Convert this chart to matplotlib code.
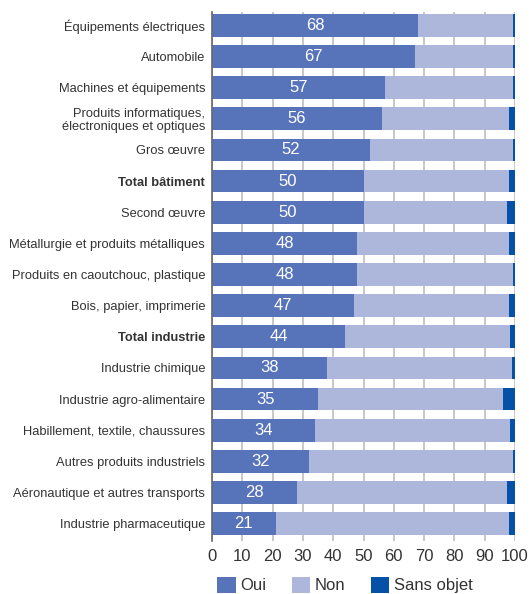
import matplotlib.pyplot as plt
import numpy as np

# Share of firms answering the question, by sector (%)
categories = [
    "Équipements électriques",
    "Automobile",
    "Machines et équipements",
    "Produits informatiques,\nélectroniques et optiques",
    "Gros œuvre",
    "Total bâtiment",
    "Second œuvre",
    "Métallurgie et produits métalliques",
    "Produits en caoutchouc, plastique",
    "Bois, papier, imprimerie",
    "Total industrie",
    "Industrie chimique",
    "Industrie agro-alimentaire",
    "Habillement, textile, chaussures",
    "Autres produits industriels",
    "Aéronautique et autres transports",
    "Industrie pharmaceutique",
]
oui = [68, 67, 57, 56, 52, 50, 50, 48, 48, 47, 44, 38, 35, 34, 32, 28, 21]
sans_objet = [0.5, 0.5, 0.5, 2, 0.5, 2, 2.5, 2, 0.5, 2, 1.5, 1, 4, 1.5, 0.5, 2.5, 2]
non = [100 - o - s for o, s in zip(oui, sans_objet)]
bold_rows = ["Total bâtiment", "Total industrie"]

plt.rcParams["font.family"] = ["Liberation Sans", "DejaVu Sans"]

fig = plt.figure(figsize=(5.29, 5.94), dpi=100)
ax = fig.add_axes([0.401, 0.089, 0.5725, 0.891])

y = np.arange(len(categories))
h = 0.73
c_oui, c_non, c_so = "#5773BA", "#ADB6DB", "#0451A7"
ax.barh(y, oui, h, color=c_oui, label="Oui", zorder=2)
ax.barh(y, non, h, left=oui, color=c_non, label="Non", zorder=2)
ax.barh(y, sans_objet, h, left=[o + n for o, n in zip(oui, non)],
        color=c_so, label="Sans objet", zorder=2)

for yi, v in zip(y, oui):
    ax.text(v / 2, yi, str(v), ha="center", va="center", color="white", fontsize=12)

ax.set_xlim(0, 100)
ax.set_ylim(16.56, -0.43)
ax.set_xticks(range(0, 101, 10))
ax.set_yticks(y)
ax.set_yticklabels(categories, fontsize=9.3, color="#333333", linespacing=1.05)
for lbl in ax.get_yticklabels():
    if lbl.get_text() in bold_rows:
        lbl.set_fontweight("bold")
ax.tick_params(axis="x", length=0, pad=6, labelsize=12, labelcolor="#333333")
ax.tick_params(axis="y", length=0, pad=5)
ax.grid(axis="x", color="#BEBEBE", linewidth=1.2, zorder=0)
for s in ["top", "right", "bottom"]:
    ax.spines[s].set_visible(False)
ax.spines["left"].set_color("#666666")
ax.spines["left"].set_linewidth(1.2)
ax.spines["left"].set_zorder(3)

fig.legend(loc="center", bbox_to_anchor=(0.652, 0.015), ncol=3, frameon=False,
           fontsize=12, handlelength=1.1, handleheight=1.1, handletextpad=0.3,
           columnspacing=1.5, labelcolor="#333333")

fig.savefig("out.png", dpi=100)
